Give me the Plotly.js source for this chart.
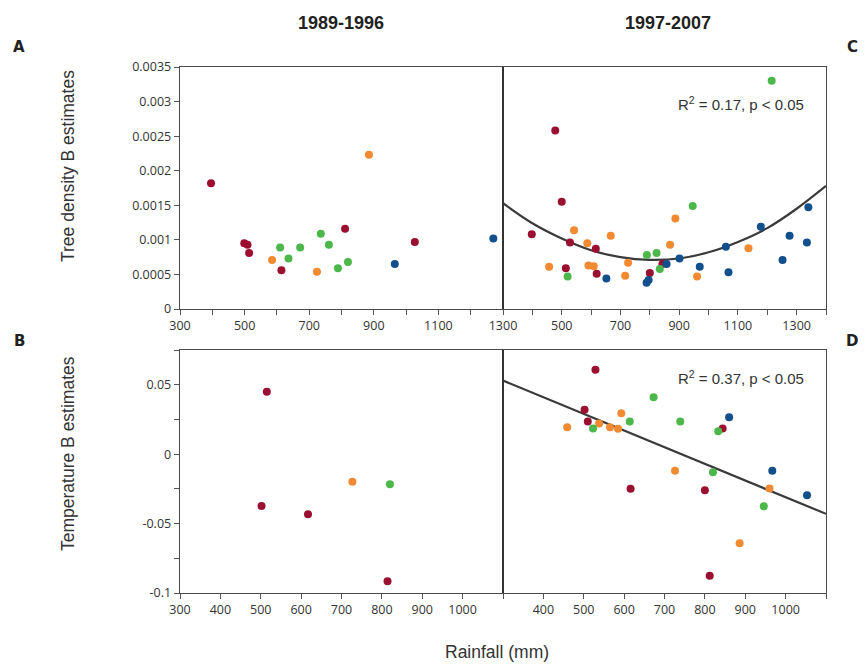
<!DOCTYPE html>
<html>
<head>
<meta charset="utf-8">
<script src="https://cdn.plot.ly/plotly-3.0.1.min.js"></script>
<style>html,body{margin:0;padding:0;background:#fff}#chart{width:866px;height:671px}</style>
</head>
<body>
<div id="chart"></div>
<script>
// Panel A: tree density, 1989-1996
const densEarlyX = [396, 499, 509, 514, 585, 614, 610, 636, 672, 736, 761, 724, 789, 820, 811, 885, 965, 1027, 1270];
const densEarlyY = [0.00182, 0.00095, 0.00093, 0.00081, 0.00071, 0.00056, 0.00089, 0.00073, 0.00089, 0.00109, 0.00093, 0.00054, 0.00059, 0.00068, 0.00116, 0.00223, 0.00065, 0.00097, 0.00102];
const densEarlyG = ['r','r','r','r','o','r','g','g','g','g','g','o','g','g','r','o','b','r','b'];

// Panel C: tree density, 1997-2007
const densLateX = [1215, 478, 500, 398, 528, 542, 457, 514, 520, 587, 616, 591, 609, 619, 652, 667, 726, 716, 790, 823, 843, 800, 796, 789, 834, 857, 901, 869, 887, 946, 970, 961, 1059, 1068, 1136, 1178, 1252, 1276, 1335, 1340];
const densLateY = [0.0033, 0.00258, 0.00155, 0.00108, 0.00096, 0.00114, 0.00061, 0.00059, 0.00047, 0.00095, 0.00087, 0.00063, 0.00062, 0.00051, 0.00044, 0.00106, 0.00067, 0.00048, 0.00078, 0.00081, 0.00065, 0.00052, 0.00042, 0.00038, 0.00058, 0.00065, 0.00073, 0.00093, 0.00131, 0.00149, 0.00061, 0.00047, 0.0009, 0.00053, 0.00088, 0.00119, 0.00071, 0.00106, 0.00096, 0.00147];
const densLateG = ['g','r','r','r','r','o','o','r','g','o','r','o','o','r','b','o','o','o','g','g','r','r','b','b','g','b','b','o','o','g','b','o','b','b','o','b','b','b','b','b'];
// Quadratic fit curve
const densFitX = [300, 400, 500, 600, 700, 800, 900, 1000, 1100, 1200, 1300, 1400];
const densFitY = [0.00153, 0.00124, 0.00102, 0.00085, 0.00075, 0.00071, 0.00073, 0.00082, 0.00097, 0.00117, 0.00145, 0.00178];

// Panel B: temperature, 1989-1996
const tempEarlyX = [515, 502, 617, 727, 820, 814];
const tempEarlyY = [0.0449, -0.0374, -0.0432, -0.0199, -0.0216, -0.0915];
const tempEarlyG = ['r','r','r','o','g','r'];

// Panel D: temperature, 1997-2007
const tempLateX = [529, 673, 502, 593, 510, 459, 538, 523, 565, 585, 614, 739, 860, 844, 833, 726, 820, 616, 800, 967, 960, 1053, 946, 886, 812];
const tempLateY = [0.0607, 0.041, 0.032, 0.0294, 0.0235, 0.0194, 0.0221, 0.0184, 0.0194, 0.0182, 0.0235, 0.0235, 0.0265, 0.0184, 0.0165, -0.0119, -0.0131, -0.025, -0.026, -0.0119, -0.0248, -0.0296, -0.0376, -0.0641, -0.0876];
const tempLateG = ['r','g','r','o','r','o','o','g','o','o','g','g','b','r','g','o','g','r','r','b','o','b','g','o','r'];
const tempFitX = [300, 1100];
const tempFitY = [0.053, -0.043];

const groupColors = {r:'#9b0f30', o:'#f28a32', g:'#4cb84b', b:'#124f8d'};

function pts(x, y, g, xa, ya) {
  return {x: x, y: y, xaxis: xa, yaxis: ya, type: 'scatter', mode: 'markers',
    marker: {size: 8, color: g.map(k => groupColors[k])}, hoverinfo: 'x+y', showlegend: false};
}
function fit(x, y, xa, ya, shape) {
  return {x: x, y: y, xaxis: xa, yaxis: ya, type: 'scatter', mode: 'lines',
    line: {color: '#3a3a3a', width: 2.2, shape: shape}, hoverinfo: 'skip', showlegend: false};
}

const data = [
  pts(densEarlyX, densEarlyY, densEarlyG, 'x', 'y'),
  fit(densFitX, densFitY, 'x2', 'y2', 'spline'),
  pts(densLateX, densLateY, densLateG, 'x2', 'y2'),
  pts(tempEarlyX, tempEarlyY, tempEarlyG, 'x3', 'y3'),
  fit(tempFitX, tempFitY, 'x4', 'y4', 'linear'),
  pts(tempLateX, tempLateY, tempLateG, 'x4', 'y4')
];

const tickFont = {family: '"Open Sans", "Noto Sans", sans-serif', size: 12.5, color: '#333'};
const W = 866, H = 671;
const xL = [180 / W, 503 / W], xR = [503 / W, 826 / W];
const yT = [1 - 309 / H, 1 - 67 / H], yB = [1 - 593 / H, 1 - 350 / H];

function ax(extra) {
  return Object.assign({
    showline: true, mirror: true, linecolor: '#4a4a4a', linewidth: 1.3,
    showgrid: false, zeroline: false, ticks: 'outside', ticklen: 5, tickwidth: 1,
    tickcolor: '#555', tickfont: tickFont, fixedrange: true
  }, extra);
}

const labelFont = {family: '"Liberation Sans", Arial, sans-serif', size: 17.5, color: '#333'};
const titleFont = {family: '"Liberation Sans Narrow", "Liberation Sans", Arial, sans-serif', size: 18, color: '#222'};
const letterFont = {family: '"DejaVu Sans", sans-serif', size: 15, color: '#222'};

function note(text, px, py, font, extra) {
  return Object.assign({text: text, xref: 'paper', yref: 'paper', x: px / W, y: 1 - py / H,
    xanchor: 'center', yanchor: 'middle', showarrow: false, font: font}, extra || {});
}

const layout = {
  width: W, height: H,
  margin: {l: 0, r: 0, t: 0, b: 0},
  paper_bgcolor: '#fff', plot_bgcolor: '#fff',
  showlegend: false,
  xaxis: ax({domain: xL, range: [300, 1300], tickvals: [300, 500, 700, 900, 1100, 1300],
    minor: {tickvals: [400, 600, 800, 1000, 1200], ticks: 'outside', ticklen: 5, tickcolor: '#555'}, anchor: 'y'}),
  yaxis: ax({domain: yT, range: [0, 0.0035], tickvals: [0, 0.0005, 0.001, 0.0015, 0.002, 0.0025, 0.003, 0.0035],
    ticktext: ['0', '0.0005', '0.001', '0.0015', '0.002', '0.0025', '0.003', '0.0035'], anchor: 'x'}),
  xaxis2: ax({domain: xR, range: [300, 1400], tickvals: [500, 700, 900, 1100, 1300],
    minor: {tickvals: [300, 400, 600, 800, 1000, 1200, 1400], ticks: 'outside', ticklen: 5, tickcolor: '#555'}, anchor: 'y2'}),
  yaxis2: ax({domain: yT, range: [0, 0.0035], showticklabels: false, ticks: '', anchor: 'x2'}),
  xaxis3: ax({domain: xL, range: [300, 1100], tickvals: [300, 400, 500, 600, 700, 800, 900, 1000],
    minor: {tickvals: [1100], ticks: 'outside', ticklen: 5, tickcolor: '#555'}, anchor: 'y3'}),
  yaxis3: ax({domain: yB, range: [-0.1, 0.075], tickvals: [-0.1, -0.05, 0, 0.05], ticktext: ['-0.1', '-0.05', '0', '0.05'],
    minor: {tickvals: [-0.075, -0.025, 0.025, 0.075], ticks: 'outside', ticklen: 5, tickcolor: '#555'}, anchor: 'x3'}),
  xaxis4: ax({domain: xR, range: [300, 1100], tickvals: [400, 500, 600, 700, 800, 900, 1000],
    minor: {tickvals: [300, 1100], ticks: 'outside', ticklen: 5, tickcolor: '#555'}, anchor: 'y4'}),
  yaxis4: ax({domain: yB, range: [-0.1, 0.075], showticklabels: false, ticks: '', anchor: 'x4'}),
  shapes: [
    {type: 'line', xref: 'paper', yref: 'paper', x0: 503 / W, x1: 503 / W, y0: yT[0], y1: yT[1], line: {color: '#333', width: 2}},
    {type: 'line', xref: 'paper', yref: 'paper', x0: 503 / W, x1: 503 / W, y0: yB[0], y1: yB[1], line: {color: '#333', width: 2}}
  ],
  annotations: [
    note('<b>1989-1996</b>', 341, 23, titleFont),
    note('<b>1997-2007</b>', 668, 23, titleFont),
    note('<b>A</b>', 19, 47, letterFont),
    note('<b>C</b>', 852, 47, letterFont),
    note('<b>B</b>', 19, 341, letterFont),
    note('<b>D</b>', 852, 341, letterFont),
    note('Tree density B estimates', 68, 166, labelFont, {textangle: -90}),
    note('Temperature B estimates', 68, 454, labelFont, {textangle: -90}),
    note('Rainfall (mm)', 497, 652, labelFont),
    note('R<sup>2</sup> = 0.17, p < 0.05', 806, 103, {family: '"Liberation Sans", Arial, sans-serif', size: 15, color: '#333'}, {xanchor: 'right'}),
    note('R<sup>2</sup> = 0.37, p < 0.05', 806, 377, {family: '"Liberation Sans", Arial, sans-serif', size: 15, color: '#333'}, {xanchor: 'right'})
  ]
};

Plotly.newPlot('chart', data, layout, {displayModeBar: false, staticPlot: true});
</script>
</body>
</html>
